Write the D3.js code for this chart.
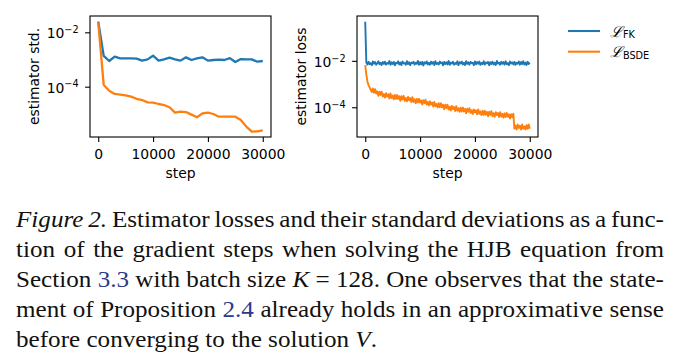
<!DOCTYPE html>
<html>
<head>
<meta charset="utf-8">
<title>Estimator losses</title>
<script src="https://d3js.org/d3.v7.min.js"></script>
<style>
  body { margin: 0; background: #fff; }
</style>
</head>
<body>
<svg id="fig" width="684" height="364"></svg>
<script>
// --- data ---
const stdSteps = d3.range(0, 30001, 1000);
const stdFK = [2.46e-2, 1.35e-3, 0.88e-3, 1.27e-3, 1.10e-3, 1.10e-3, 1.10e-3, 1.07e-3, 0.91e-3, 1.01e-3,
  1.38e-3, 0.91e-3, 1.01e-3, 1.17e-3, 1.01e-3, 0.91e-3, 1.20e-3, 0.96e-3, 1.10e-3, 1.20e-3,
  0.91e-3, 0.96e-3, 0.99e-3, 0.96e-3, 1.13e-3, 0.81e-3, 1.04e-3, 1.01e-3, 1.01e-3, 0.83e-3, 0.88e-3];
const stdBSDE = [2.3e-2, 1.16e-4, 7.1e-5, 5.4e-5, 5.1e-5, 4.8e-5, 4.3e-5, 3.6e-5, 3.24e-5, 2.66e-5,
  2.59e-5, 2.31e-5, 2.12e-5, 1.75e-5, 1.11e-5, 1.21e-5, 1.17e-5, 9.4e-6, 7.5e-6, 1.05e-5,
  1.11e-5, 9.9e-6, 7.9e-6, 7.9e-6, 7.9e-6, 7.9e-6, 6.0e-6, 3.4e-6, 2.22e-6, 2.29e-6, 2.49e-6];

const lossSteps = d3.range(0, 30001, 200);
const lossFK = [0.48,
  8.4e-3, 6.9e-3, 9.1e-3, 7.2e-3, 8.0e-3, 6.5e-3, 9.4e-3, 7.6e-3, 8.8e-3, 6.8e-3,
  7.9e-3, 9.6e-3, 7.1e-3, 8.3e-3, 6.6e-3, 8.9e-3, 7.4e-3, 9.2e-3, 6.9e-3, 8.1e-3,
  7.5e-3, 9.8e-3, 6.7e-3, 8.6e-3, 7.3e-3, 9.0e-3, 6.4e-3, 8.2e-3, 7.8e-3, 9.5e-3,
  7.0e-3, 8.5e-3, 6.6e-3, 9.3e-3, 7.7e-3, 8.0e-3, 6.8e-3, 9.7e-3, 7.2e-3, 8.7e-3,
  6.5e-3, 8.4e-3, 7.9e-3, 9.1e-3, 6.9e-3, 8.2e-3, 7.4e-3, 9.9e-3, 6.7e-3, 8.8e-3,
  7.1e-3, 9.0e-3, 6.3e-3, 8.6e-3, 7.6e-3, 9.4e-3, 7.0e-3, 8.3e-3, 6.8e-3, 9.2e-3,
  7.5e-3, 8.9e-3, 6.6e-3, 9.6e-3, 7.3e-3, 8.1e-3, 6.9e-3, 9.3e-3, 7.8e-3, 8.5e-3,
  6.4e-3, 9.0e-3, 7.2e-3, 8.7e-3, 7.0e-3, 9.8e-3, 6.7e-3, 8.4e-3, 7.6e-3, 9.1e-3,
  6.9e-3, 8.0e-3, 7.3e-3, 9.5e-3, 6.5e-3, 8.8e-3, 7.7e-3, 9.2e-3, 7.0e-3, 8.3e-3,
  6.6e-3, 9.7e-3, 7.4e-3, 8.6e-3, 6.8e-3, 9.0e-3, 7.9e-3, 8.2e-3, 6.5e-3, 9.4e-3,
  7.1e-3, 8.9e-3, 7.5e-3, 9.3e-3, 6.7e-3, 8.1e-3, 7.2e-3, 9.6e-3, 6.9e-3, 8.5e-3,
  7.8e-3, 9.0e-3, 6.4e-3, 8.7e-3, 7.3e-3, 9.2e-3, 7.0e-3, 8.3e-3, 6.6e-3, 9.8e-3,
  7.6e-3, 8.4e-3, 6.8e-3, 9.1e-3, 7.4e-3, 8.8e-3, 6.9e-3, 9.5e-3, 7.1e-3, 8.0e-3,
  6.5e-3, 9.3e-3, 7.7e-3, 8.6e-3, 7.0e-3, 9.0e-3, 6.7e-3, 8.2e-3, 7.5e-3, 9.4e-3,
  6.8e-3, 8.9e-3, 7.2e-3, 9.6e-3, 7.0e-3, 8.4e-3, 6.6e-3, 9.1e-3, 7.3e-3, 8.5e-3];
const lossBSDE = [65e-4, 26e-4, 13e-4, 9.0e-4, 7.2e-4, 5.6e-4,
  4.5e-4, 6.5e-4, 4.2e-4, 6.0e-4, 3.9e-4,
  4.9e-4, 3.1e-4, 4.7e-4, 3.4e-4, 4.7e-4,
  2.9e-4, 3.7e-4, 2.6e-4, 4.0e-4, 2.9e-4,
  3.6e-4, 2.4e-4, 3.9e-4, 2.5e-4, 3.2e-4,
  2.2e-4, 3.4e-4, 2.3e-4, 3.4e-4, 2.3e-4,
  3.0e-4, 1.9e-4, 3.0e-4, 2.2e-4, 3.1e-4,
  1.9e-4, 2.5e-4, 1.8e-4, 2.8e-4, 2.0e-4,
  2.5e-4, 1.7e-4, 2.7e-4, 1.7e-4, 2.2e-4,
  1.5e-4, 2.3e-4, 1.6e-4, 2.3e-4, 1.6e-4,
  2.0e-4, 1.3e-4, 2.0e-4, 1.5e-4, 2.1e-4,
  1.3e-4, 1.7e-4, 1.2e-4, 1.8e-4, 1.3e-4,
  1.6e-4, 1.07e-4, 1.7e-4, 1.1e-4, 1.4e-4,
  0.98e-4, 1.5e-4, 0.99e-4, 1.5e-4, 0.99e-4,
  1.3e-4, 0.82e-4, 1.3e-4, 0.93e-4, 1.3e-4,
  0.80e-4, 1.06e-4, 0.73e-4, 1.15e-4, 0.84e-4,
  1.04e-4, 0.69e-4, 1.12e-4, 0.71e-4, 0.91e-4,
  0.64e-4, 0.96e-4, 0.65e-4, 0.97e-4, 0.66e-4,
  0.85e-4, 0.55e-4, 0.86e-4, 0.64e-4, 0.91e-4,
  0.57e-4, 0.75e-4, 0.51e-4, 0.81e-4, 0.60e-4,
  0.74e-4, 0.50e-4, 0.81e-4, 0.52e-4, 0.66e-4,
  0.46e-4, 0.70e-4, 0.47e-4, 0.71e-4, 0.48e-4,
  0.63e-4, 0.41e-4, 0.64e-4, 0.47e-4, 0.68e-4,
  0.42e-4, 0.56e-4, 0.39e-4, 0.62e-4, 0.46e-4,
  0.57e-4, 0.38e-4, 0.62e-4, 0.40e-4, 0.52e-4,
  0.36e-4, 0.55e-4, 0.38e-4, 0.57e-4, 0.39e-4,
  0.50e-4, 0.33e-4, 0.50e-4, 0.37e-4, 0.53e-4,
  0.12e-4, 0.16e-4, 0.11e-4, 0.18e-4, 0.13e-4,
  0.16e-4, 0.11e-4, 0.18e-4, 0.12e-4, 0.15e-4,
  0.11e-4, 0.17e-4, 0.12e-4, 0.18e-4, 0.12e-4];

const xTicks = [0, 10000, 20000, 30000];
const yTicks = [1e-2, 1e-4];
const seriesNames = ["FK", "BSDE"];
const colors = ["#1f77b4", "#ff7f0e"];

const captionLines = [
  [["Figure 2.", "i"], [" Estimator losses and their standard deviations as a func-", ""]],
  [["tion of the gradient steps when solving the HJB equation from", ""]],
  [["Section ", ""], ["3.3", "link"], [" with batch size ", ""], ["K", "i"], [" = 128. One observes that the state-", ""]],
  [["ment of Proposition ", ""], ["2.4", "link"], [" already holds in an approximative sense", ""]],
  [["before converging to the solution ", ""], ["V", "i"], [".", ""]]
];

// --- drawing ---
const svg = d3.select("#fig");
svg.append("rect").attr("width", 684).attr("height", 364).attr("fill", "#fff");

const FS = 13.9;

function drawPanel(p) {
  const g = svg.append("g");
  const x = d3.scaleLinear().domain([-1500, 31500]).range([p.left, p.right]);
  const y = d3.scaleLog().domain(p.yDomain).range([p.bottom, p.top]);

  svg.append("clipPath").attr("id", p.id)
    .append("rect").attr("x", p.left).attr("y", p.top)
    .attr("width", p.right - p.left).attr("height", p.bottom - p.top);

  const plot = g.append("g").attr("clip-path", `url(#${p.id})`);
  const line = d3.line().x((d, i) => x(p.steps[i])).y(d => y(d));
  p.series.forEach((vals, k) => {
    plot.append("path")
      .datum(vals)
      .attr("fill", "none")
      .attr("stroke", colors[k])
      .attr("stroke-width", p.lw)
      .attr("stroke-linejoin", "round")
      .attr("d", line);
  });

  const xAxis = g.append("g")
    .attr("transform", `translate(0,${p.bottom})`)
    .call(d3.axisBottom(x).tickValues(xTicks).tickSize(4.9).tickPadding(7.5).tickFormat(d3.format("d")));
  const yAxis = g.append("g")
    .attr("transform", `translate(${p.left},0)`)
    .call(d3.axisLeft(y).tickValues(yTicks).tickSize(4.9).tickPadding(6.5));

  yAxis.selectAll(".tick text").text(null).attr("dy", "0.39em").each(function (d) {
    const t = d3.select(this);
    t.append("tspan").text("10");
    t.append("tspan").attr("dy", -5.2).attr("font-size", 9.7)
      .text("\u2212" + Math.round(-Math.log10(d)));
  });

  [xAxis, yAxis].forEach(a => {
    a.select(".domain").remove();
    a.attr("font-family", "DejaVu Sans").attr("font-size", FS);
    a.selectAll(".tick line").attr("stroke", "#000").attr("stroke-width", 1.1);
    a.selectAll("text").attr("fill", "#000");
  });

  g.append("rect")
    .attr("x", p.left).attr("y", p.top)
    .attr("width", p.right - p.left).attr("height", p.bottom - p.top)
    .attr("fill", "none").attr("stroke", "#000").attr("stroke-width", 1.1);

  g.append("text")
    .attr("x", (p.left + p.right) / 2).attr("y", 178)
    .attr("text-anchor", "middle")
    .attr("font-family", "DejaVu Sans").attr("font-size", FS)
    .text("step");

  g.append("text")
    .attr("transform", `translate(${p.ylabelX},${(p.top + p.bottom) / 2}) rotate(-90)`)
    .attr("text-anchor", "middle")
    .attr("font-family", "DejaVu Sans").attr("font-size", FS)
    .text(p.ylabel);
}

drawPanel({
  id: "clipStd", left: 90, right: 271, top: 16, bottom: 137,
  yDomain: [Math.pow(10, -5.85), Math.pow(10, -1.4)],
  steps: stdSteps, series: [stdFK, stdBSDE], lw: 2.3,
  ylabel: "estimator std.", ylabelX: 38.5
});
drawPanel({
  id: "clipLoss", left: 357, right: 538, top: 16, bottom: 137,
  yDomain: [Math.pow(10, -5.28), Math.pow(10, -0.07)],
  steps: lossSteps, series: [lossFK, lossBSDE], lw: 1.9,
  ylabel: "estimator loss", ylabelX: 305.5
});

// legend
const leg = svg.append("g");
seriesNames.forEach((n, k) => {
  const yy = 31 + k * 20.7;
  leg.append("line")
    .attr("x1", 568).attr("x2", 600).attr("y1", yy).attr("y2", yy)
    .attr("stroke", colors[k]).attr("stroke-width", 2.1);
  const t = leg.append("text")
    .attr("x", 610).attr("y", yy + 5.6)
    .style("font-family", "DejaVu Sans").attr("font-size", FS);
  t.append("tspan").style("font-family", "Liberation Serif").attr("font-style", "italic").attr("font-size", 15).text("\u2112");
  t.append("tspan").attr("dx", 1).attr("dy", 1.6).attr("font-size", 9.7).text(n);
});

// caption, justified like the paper
const cap = svg.append("g")
  .attr("font-size", 23)
  .attr("fill", "#111");
const capLeft = 16, capRight = 664, lastLineWidth = 361, firstBase = 227.3, lineStep = 29.9;

function toWords(segs) {
  const words = [[]];
  segs.forEach(([s, st]) => {
    s.split(/( )/).forEach(part => {
      if (part === " ") {
        if (words[words.length - 1].length) words.push([]);
      } else if (part) {
        words[words.length - 1].push([part, st]);
      }
    });
  });
  return words.filter(w => w.length);
}

function serifText() {
  return cap.append("text").style("font-family", "Liberation Serif");
}

function fillWord(t, w) {
  w.forEach(([s, st]) => {
    const sp = t.append("tspan").text(s);
    if (st === "i") sp.attr("font-style", "italic");
    if (st === "link") sp.attr("fill", "#2a3a8c");
  });
}

const measured = captionLines.map(segs => toWords(segs).map(w => {
  const t = serifText();
  fillWord(t, w);
  const len = t.node().getComputedTextLength();
  t.remove();
  return { w, len };
}));

const spaceW = 0.25 * 23;
const last = measured[measured.length - 1];
const sx = lastLineWidth / (d3.sum(last, d => d.len) + (last.length - 1) * spaceW);

measured.forEach((words, li) => {
  const total = d3.sum(words, d => d.len) * sx;
  const isLast = li === measured.length - 1;
  const gap = isLast ? spaceW * sx : (capRight - capLeft - total) / (words.length - 1);
  let xx = capLeft;
  words.forEach(d => {
    const t = serifText()
      .attr("transform", `translate(${xx},${firstBase + li * lineStep}) scale(${sx},1)`);
    fillWord(t, d.w);
    xx += d.len * sx + gap;
  });
});
</script>
</body>
</html>
